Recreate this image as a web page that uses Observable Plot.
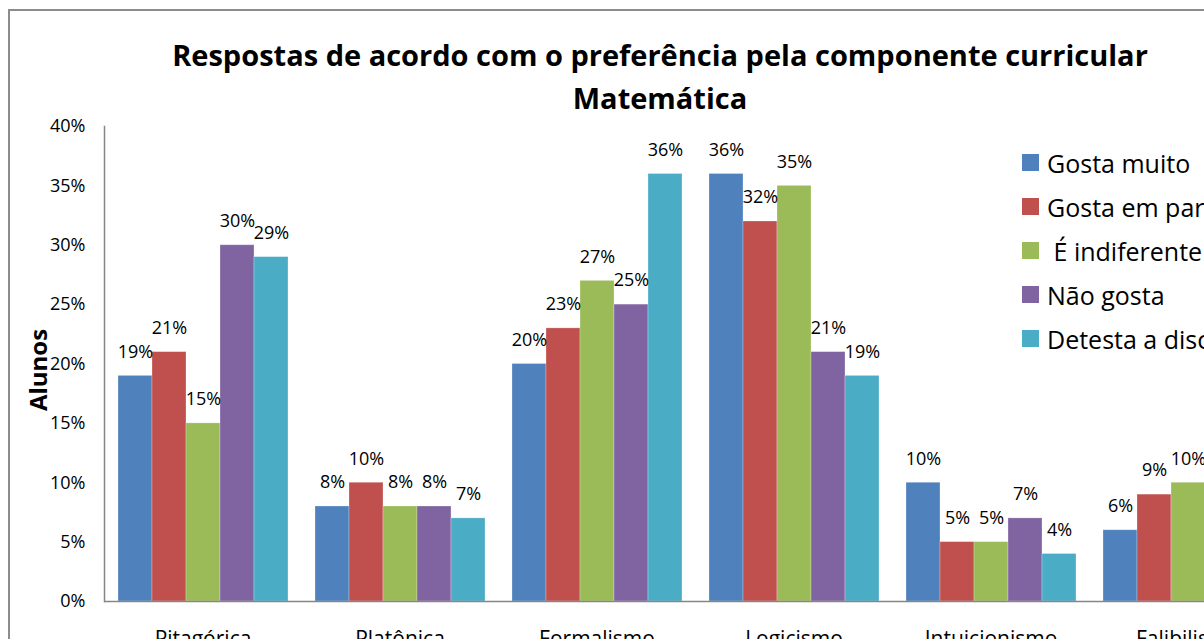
<!DOCTYPE html>
<html>
<head>
<meta charset="utf-8">
<script src="https://cdn.jsdelivr.net/npm/d3@7"></script>
<script src="https://cdn.jsdelivr.net/npm/@observablehq/plot@0.6"></script>
<style>
  html, body { margin: 0; padding: 0; background: #fff; width: 1204px; height: 639px; overflow: hidden; }
  body { position: relative; font-family: 'Open Sans', sans-serif; }
  #border { position: absolute; left: 8px; top: 9px; width: 1400px; height: 800px; border: 2px solid #8c8c8c; box-sizing: border-box; }
  #title { position: absolute; left: 160px; width: 1000px; top: 33px; text-align: center; font-weight: 700; font-size: 29px; line-height: 43px; color: #000; white-space: nowrap; }
  #ylabel { position: absolute; left: 37px; top: 370px; transform: translate(-50%, -50%) rotate(-90deg); font-weight: 700; font-size: 24px; white-space: nowrap; color: #000; }
  #chart { position: absolute; left: 0; top: 0; width: 1400px; }
  #chart svg { max-width: none !important; width: 1400px !important; height: 680px !important; }
  #legend { position: absolute; left: 1022px; top: 140.5px; }
  .item { display: flex; align-items: center; height: 44px; font-size: 25px; white-space: pre; color: #000; }
  .sw { width: 17px; height: 17px; margin-right: 8px; flex: none; }
</style>
</head>
<body>
<div id="border"></div>
<div id="chart"></div>
<div id="title">Respostas de acordo com o preferência pela componente curricular<br>Matemática</div>
<div id="ylabel">Alunos</div>
<div id="legend"></div>
<script>
const categories = ["Pitagórica", "Platônica", "Formalismo", "Logicismo", "Intuicionismo", "Falibilismo"];
const seriesNames = ["Gosta muito", "Gosta em parte", " É indiferente", "Não gosta", "Detesta a disciplina"];
const seriesColors = ["#4F81BD", "#C0504D", "#9BBB59", "#8064A2", "#4BACC6"];
const gostaMuito   = [19, 8, 20, 36, 10, 6];
const gostaEmParte = [21, 10, 23, 32, 5, 9];
const indiferente  = [15, 8, 27, 35, 5, 10];
const naoGosta     = [30, 8, 25, 21, 7, null];
const detesta      = [29, 7, 36, 19, 4, null];
const yTicks = [0, 5, 10, 15, 20, 25, 30, 35, 40];

const seriesValues = [gostaMuito, gostaEmParte, indiferente, naoGosta, detesta];
const data = seriesValues.flatMap((vals, si) =>
  vals.map((v, ci) => ({cat: categories[ci], series: seriesNames[si], value: v}))
).filter(d => d.value != null);

const W = 1400;
const chart = Plot.plot({
  width: W,
  height: 680,
  marginLeft: 103,
  marginRight: W - 1287,
  marginTop: 126,
  marginBottom: 79,
  style: {fontFamily: "'Open Sans', sans-serif", fontSize: "18px", color: "#000", background: "transparent", overflow: "visible", maxWidth: "none"},
  fx: {domain: categories, paddingInner: 0, paddingOuter: 0, label: null},
  x: {domain: seriesNames, paddingInner: 0, paddingOuter: 0.36, axis: null},
  y: {domain: [0, 40], label: null},
  color: {domain: seriesNames, range: seriesColors},
  marks: [
    Plot.barY(data, {fx: "cat", x: "series", y: "value", fill: "series", stroke: "#fff", strokeOpacity: 0.35, strokeWidth: 0.75}),
    Plot.text(data, {fx: "cat", x: "series", y: "value", text: d => d.value + "%", dy: -24, fill: "#000", fontSize: 18}),
    Plot.ruleY([0], {stroke: "#868686", strokeWidth: 1.5}),
    Plot.frame({anchor: "left", facetAnchor: "left", stroke: "#868686", strokeWidth: 1.5}),
    Plot.axisY(yTicks, {tickSize: 0, tickPadding: 19, tickFormat: d => d + "%", label: null, fontSize: 18}),
    Plot.axisFx({anchor: "bottom", tickSize: 0, tickPadding: 30, fontSize: 21, label: null})
  ]
});
document.getElementById("chart").appendChild(chart);

const legend = document.getElementById("legend");
seriesNames.forEach((name, i) => {
  const row = document.createElement("div");
  row.className = "item";
  const sw = document.createElement("span");
  sw.className = "sw";
  sw.style.background = seriesColors[i];
  const label = document.createElement("span");
  label.textContent = name;
  row.appendChild(sw);
  row.appendChild(label);
  legend.appendChild(row);
});
</script>
</body>
</html>
